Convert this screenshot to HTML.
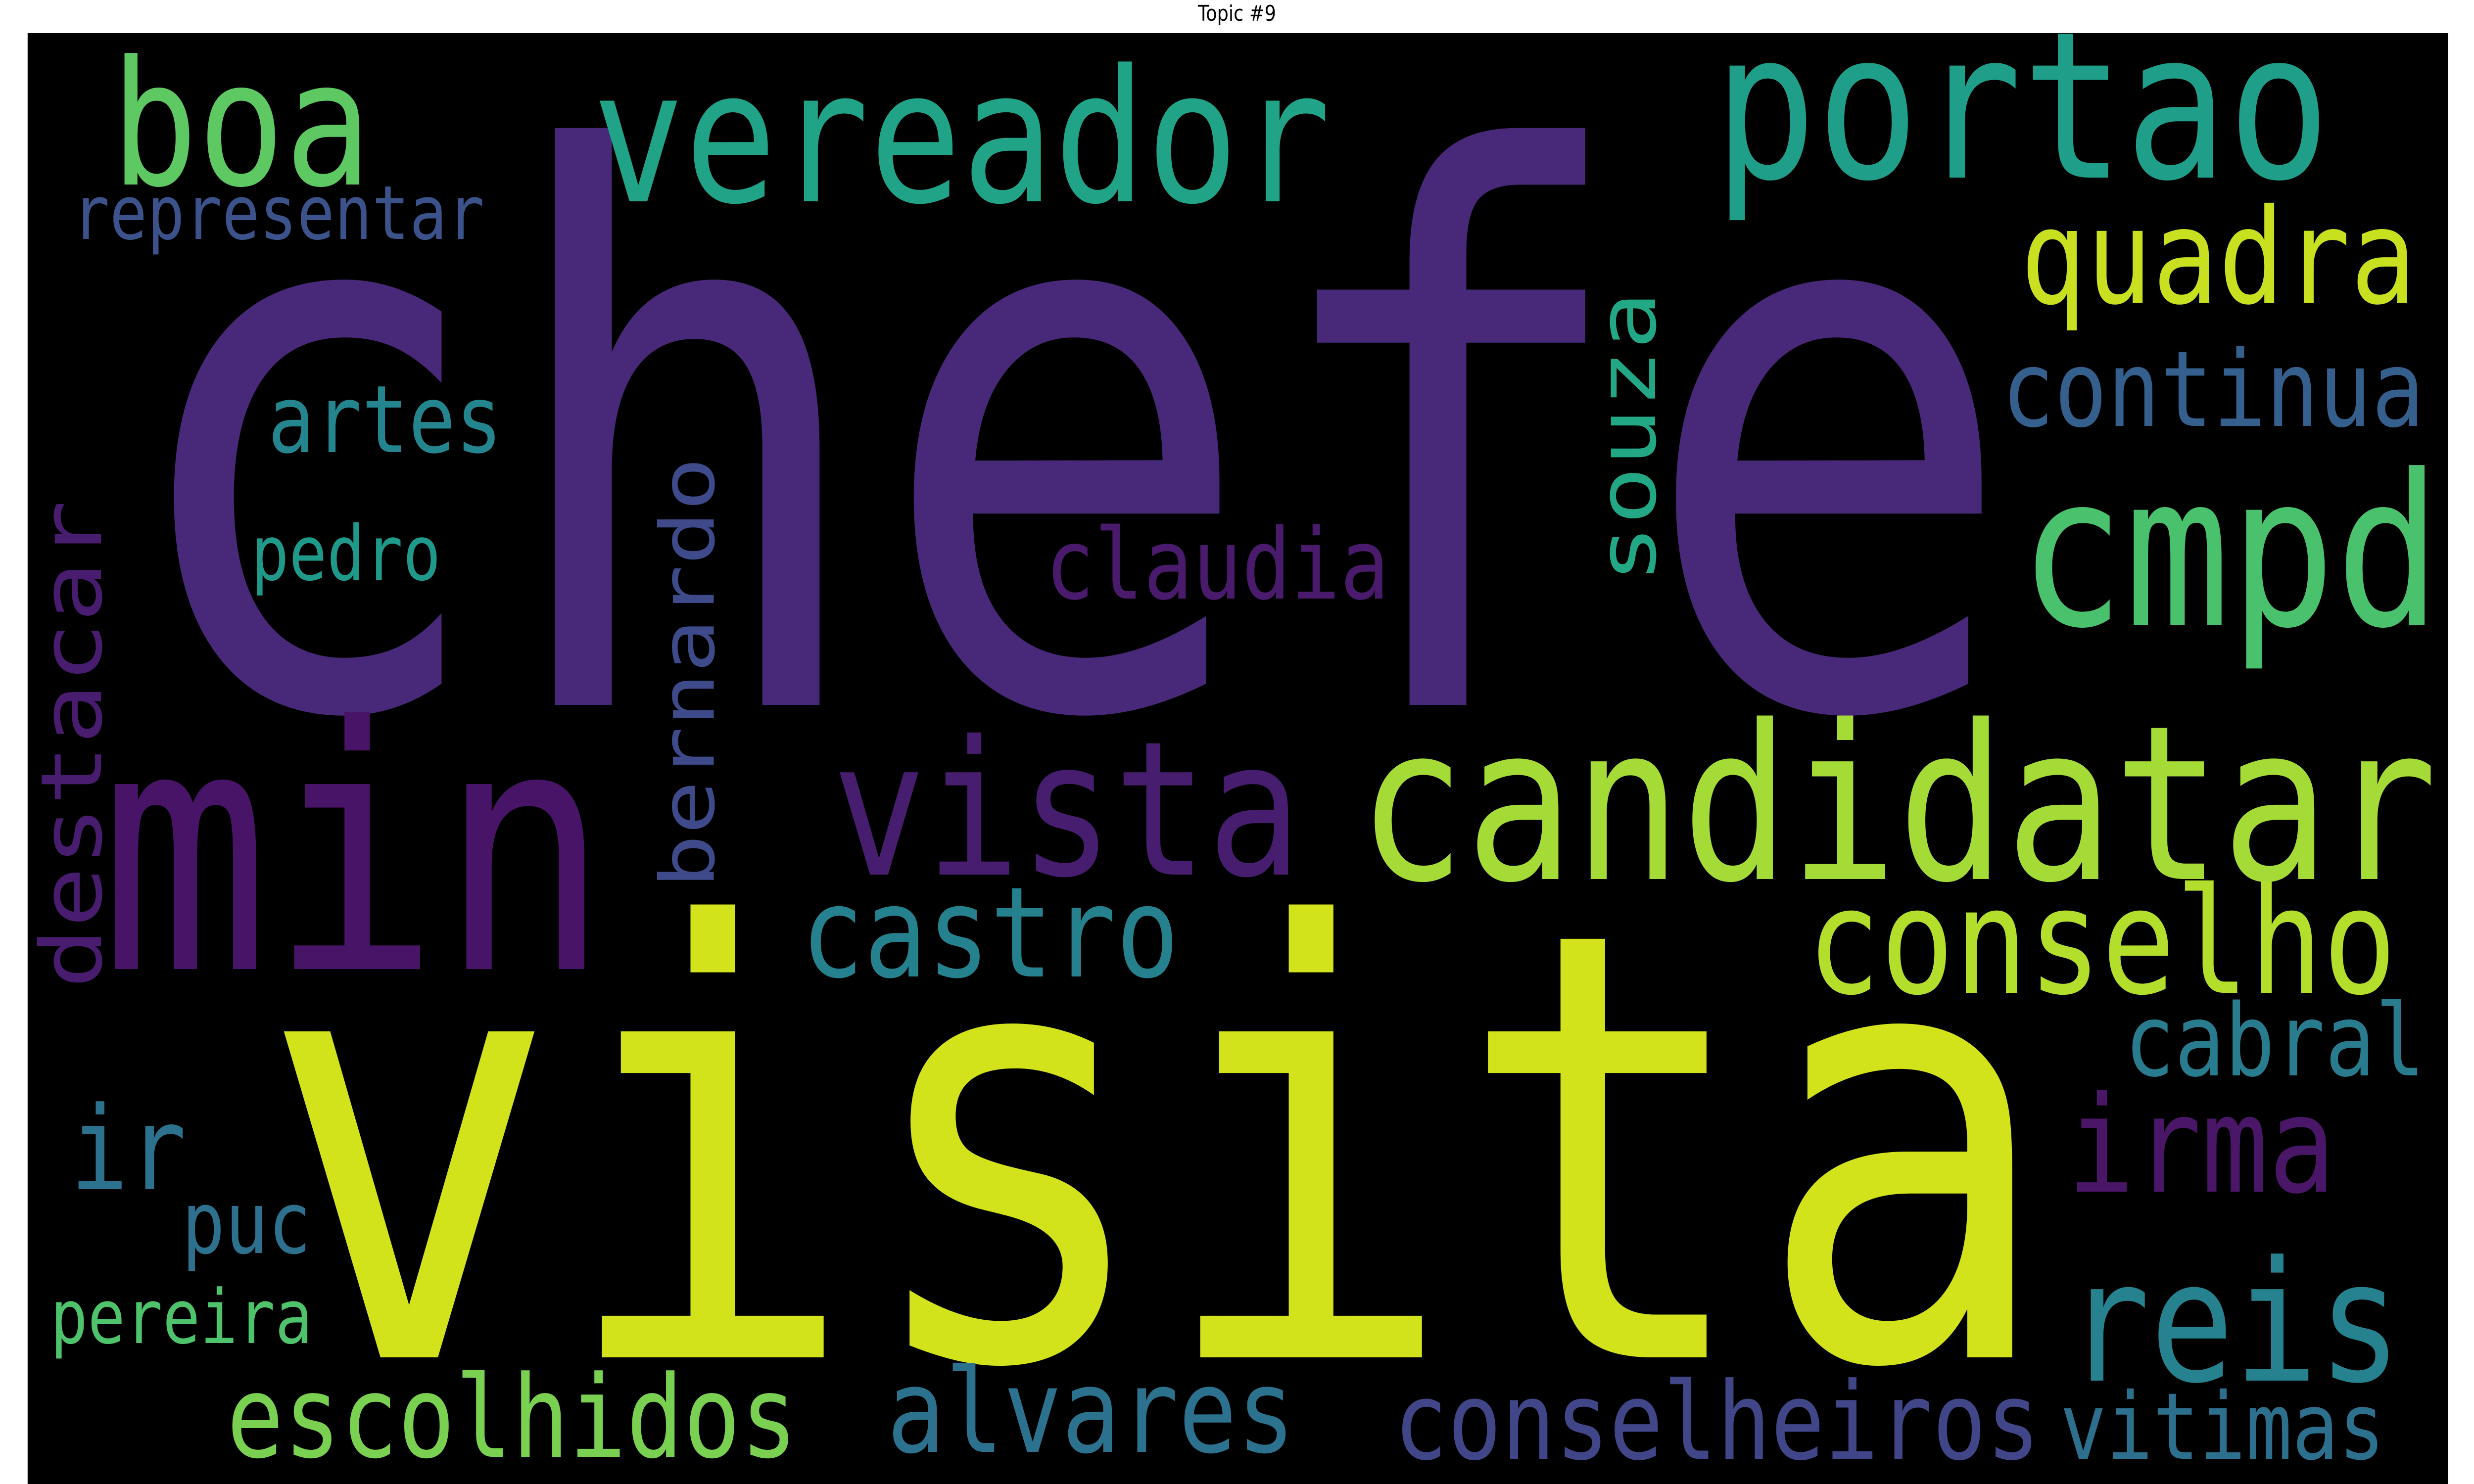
<!DOCTYPE html>
<html>
<head>
<meta charset="utf-8">
<style>
html,body{margin:0;padding:0;background:#fff;width:100%;height:100%;overflow:hidden;}
svg{display:block;width:100vw;height:100vh;}
text{font-family:"DejaVu Sans Mono","Liberation Mono",monospace;}
</style>
</head>
<body>
<svg viewBox="0 0 6000 3000" preserveAspectRatio="none">
<rect x="0" y="0" width="6000" height="3000" fill="#ffffff"/>
<text x="3000" y="42" text-anchor="middle" font-size="44" fill="#000" style="font-family:'DejaVu Sans','Liberation Sans',sans-serif">Topic #9</text>
<rect x="67" y="67" width="5870" height="2933" fill="#000000"/>
<g text-anchor="middle">
<text x="2586" y="1425" font-size="1535" fill="#482878">chefe</text>
<text x="2806" y="2744" font-size="1205" fill="#d2e21b">visita</text>
<text x="2332" y="407" font-size="372" fill="#20a386">vereador</text>
<text x="4904" y="359" font-size="414" fill="#1f9e89">portao</text>
<text x="585" y="373" font-size="350" fill="#5ec962">boa</text>
<text x="675" y="483" font-size="151" fill="#3b528b">representar</text>
<text x="5380" y="612" font-size="266" fill="#c8e020">quadra</text>
<text x="5367" y="861" font-size="213" fill="#355f8d">continua</text>
<text x="5408" y="1263" font-size="425" fill="#4ac16d">cmpd</text>
<text x="934" y="914" font-size="189" fill="#25858e">artes</text>
<text x="839" y="1172" font-size="153" fill="#1f9a8a">pedro</text>
<text x="2952" y="1210" font-size="198" fill="#4a1a6c">claudia</text>
<text transform="translate(4014,884) rotate(-90)" x="0" y="0" font-size="196" fill="#22a884">souza</text>
<text transform="translate(1731,1360) rotate(-90)" x="0" y="0" font-size="181" fill="#3e4a89">bernardo</text>
<text transform="translate(245,1505) rotate(-90)" x="0" y="0" font-size="205" fill="#481c6e">destacar</text>
<text x="860" y="1959" font-size="684" fill="#481467">min</text>
<text x="2587" y="1768" font-size="378" fill="#471d6f">vista</text>
<text x="2401" y="1974" font-size="254" fill="#26818e">castro</text>
<text x="4602" y="1777" font-size="435" fill="#a5db36">candidatar</text>
<text x="5097" y="2007" font-size="297" fill="#b4de2c">conselho</text>
<text x="5517" y="2174" font-size="202" fill="#297b8e">cabral</text>
<text x="5339" y="2409" font-size="270" fill="#4a1668">irma</text>
<text x="5418" y="2791" font-size="338" fill="#26828e">reis</text>
<text x="4164" y="2949" font-size="217" fill="#404688">conselheiros</text>
<text x="5390" y="2949" font-size="187" fill="#2d708e">vitimas</text>
<text x="2646" y="2935" font-size="235" fill="#2c728e">alvares</text>
<text x="1242" y="2945" font-size="230" fill="#7ad151">escolhidos</text>
<text x="311" y="2404" font-size="234" fill="#2c728e">ir</text>
<text x="598" y="2533" font-size="174" fill="#2d718e">puc</text>
<text x="440" y="2715" font-size="151" fill="#4ec36b">pereira</text>
</g>
</svg>
</body>
</html>
